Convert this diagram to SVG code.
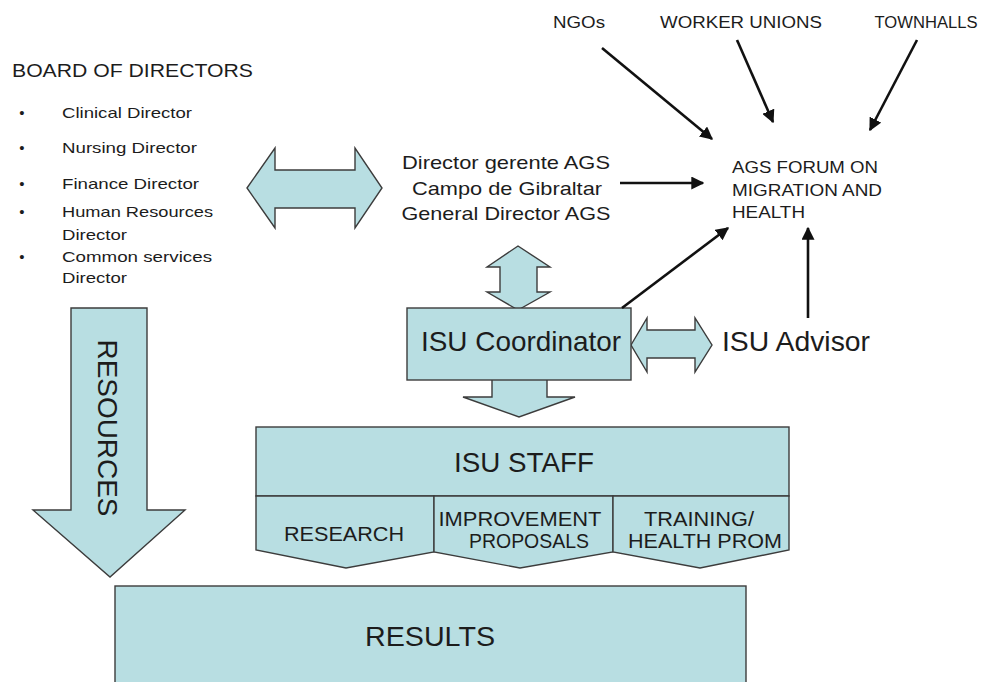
<svg xmlns="http://www.w3.org/2000/svg" width="992" height="682" viewBox="0 0 992 682">
  <style>
    .shape { fill: #b8dee2; stroke: #3c3c3c; stroke-width: 1.4; stroke-linejoin: miter; }
    text { font-family: "Liberation Sans", Arial, sans-serif; fill: #1c1c1c; }
    .mid { text-anchor: middle; }
    .link { stroke: #111; stroke-width: 2.6; fill: none; marker-end: url(#head); }
  </style>
  <defs>
    <marker id="head" viewBox="0 0 10 10" refX="9" refY="5" markerWidth="5" markerHeight="5" orient="auto" markerUnits="strokeWidth">
      <path d="M0,0 L10,5 L0,10 z" fill="#111"/>
    </marker>
  </defs>
  <rect width="992" height="682" fill="#ffffff"/>

  <!-- Board of directors list -->
  <g id="board">
    <text x="12" y="77" font-size="18" textLength="241" lengthAdjust="spacingAndGlyphs">BOARD OF DIRECTORS</text>
    <g font-size="15">
      <text class="mid" x="22" y="118">•</text>
      <text class="mid" x="22" y="153">•</text>
      <text class="mid" x="22" y="189">•</text>
      <text class="mid" x="22" y="217">•</text>
      <text class="mid" x="22" y="262">•</text>
      <text x="62" y="118" textLength="130" lengthAdjust="spacingAndGlyphs">Clinical Director</text>
      <text x="62" y="153" textLength="135" lengthAdjust="spacingAndGlyphs">Nursing Director</text>
      <text x="62" y="189" textLength="137" lengthAdjust="spacingAndGlyphs">Finance Director</text>
      <text x="62" y="217" textLength="151" lengthAdjust="spacingAndGlyphs">Human Resources</text>
      <text x="62" y="240" textLength="65" lengthAdjust="spacingAndGlyphs">Director</text>
      <text x="62" y="262" textLength="150" lengthAdjust="spacingAndGlyphs">Common services</text>
      <text x="62" y="283" textLength="65" lengthAdjust="spacingAndGlyphs">Director</text>
    </g>
  </g>

  <!-- Block arrows -->
  <g id="board-director-arrow">
    <polygon class="shape" points="247,188 275,148 275,170 355,170 355,148 382,188 355,228 355,208 275,208 275,228"/>
  </g>
  <g id="director-coordinator-arrow">
    <polygon class="shape" points="518,246 550,267 537,267 537,292 550,292 518,310 487,292 500,292 500,267 487,267"/>
  </g>
  <g id="coordinator-advisor-arrow">
    <polygon class="shape" points="631,345 647,318 647,330 695,330 695,318 712,345 695,372 695,358 647,358 647,372"/>
  </g>
  <g id="coordinator-staff-arrow">
    <polygon class="shape" points="492,378 547,378 547,397 575,397 519,417 463,397 492,397"/>
  </g>
  <g id="resources">
    <polygon class="shape" points="71,308 147,308 147,510 185,510 110,577 33,510 71,510"/>
    <text class="mid" transform="translate(108,428) rotate(90)" y="10" font-size="28" textLength="177" lengthAdjust="spacingAndGlyphs">RESOURCES</text>
  </g>

  <!-- Director -->
  <g id="director">
    <text class="mid" x="506" y="169" font-size="19" textLength="208" lengthAdjust="spacingAndGlyphs">Director gerente AGS</text>
    <text class="mid" x="507" y="195" font-size="19" textLength="190" lengthAdjust="spacingAndGlyphs">Campo de Gibraltar</text>
    <text class="mid" x="506" y="220" font-size="19" textLength="209" lengthAdjust="spacingAndGlyphs">General Director AGS</text>
  </g>

  <!-- Forum and outside bodies -->
  <g id="forum">
    <text x="732" y="173" font-size="17" textLength="146" lengthAdjust="spacingAndGlyphs">AGS FORUM ON</text>
    <text x="732" y="196" font-size="17" textLength="150" lengthAdjust="spacingAndGlyphs">MIGRATION AND</text>
    <text x="732" y="218" font-size="17" textLength="73" lengthAdjust="spacingAndGlyphs">HEALTH</text>
  </g>
  <g id="ngos">
    <text class="mid" x="579" y="28" font-size="16" textLength="52" lengthAdjust="spacingAndGlyphs">NGOs</text>
  </g>
  <g id="worker-unions">
    <text class="mid" x="741" y="28" font-size="16" textLength="162" lengthAdjust="spacingAndGlyphs">WORKER UNIONS</text>
  </g>
  <g id="townhalls">
    <text class="mid" x="926" y="28" font-size="16" textLength="103" lengthAdjust="spacingAndGlyphs">TOWNHALLS</text>
  </g>

  <!-- ISU coordinator and advisor -->
  <g id="coordinator">
    <rect class="shape" x="407" y="308" width="224" height="72"/>
    <text class="mid" x="521" y="351" font-size="28" textLength="200" lengthAdjust="spacingAndGlyphs">ISU Coordinator</text>
  </g>
  <g id="advisor">
    <text x="722" y="351" font-size="28" textLength="148" lengthAdjust="spacingAndGlyphs">ISU Advisor</text>
  </g>

  <!-- ISU staff and its three lines of work -->
  <g id="staff">
    <rect class="shape" x="256" y="427" width="533" height="69"/>
    <text class="mid" x="524" y="472" font-size="27" textLength="140" lengthAdjust="spacingAndGlyphs">ISU STAFF</text>
  </g>
  <g id="research">
    <polygon class="shape" points="256,496 434,496 434,552 346,568 256,550"/>
    <text class="mid" x="344" y="541" font-size="20" textLength="120" lengthAdjust="spacingAndGlyphs">RESEARCH</text>
  </g>
  <g id="improvement">
    <polygon class="shape" points="434,496 613,496 613,552 520,568 434,552"/>
    <text class="mid" x="520" y="526" font-size="20" textLength="163" lengthAdjust="spacingAndGlyphs">IMPROVEMENT</text>
    <text class="mid" x="529" y="548" font-size="20" textLength="120" lengthAdjust="spacingAndGlyphs">PROPOSALS</text>
  </g>
  <g id="training">
    <polygon class="shape" points="613,496 789,496 789,550 700,568 613,552"/>
    <text class="mid" x="699" y="526" font-size="20" textLength="110" lengthAdjust="spacingAndGlyphs">TRAINING/</text>
    <text class="mid" x="705" y="548" font-size="20" textLength="154" lengthAdjust="spacingAndGlyphs">HEALTH PROM</text>
  </g>

  <!-- Results -->
  <g id="results">
    <rect class="shape" x="115" y="586" width="631" height="110"/>
    <text class="mid" x="430" y="646" font-size="28" textLength="130" lengthAdjust="spacingAndGlyphs">RESULTS</text>
  </g>

  <!-- Connectors into the forum -->
  <g id="connectors">
    <line class="link" x1="602" y1="48" x2="712" y2="139"/>
    <line class="link" x1="737" y1="40" x2="773" y2="122"/>
    <line class="link" x1="917" y1="40" x2="870" y2="130"/>
    <line class="link" x1="620" y1="183" x2="703" y2="183"/>
    <line class="link" x1="622" y1="308" x2="728" y2="228"/>
    <line class="link" x1="808" y1="318" x2="808" y2="228"/>
  </g>
</svg>
